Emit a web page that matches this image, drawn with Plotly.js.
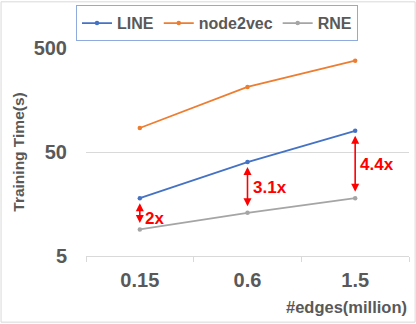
<!DOCTYPE html>
<html>
<head>
<meta charset="utf-8">
<script src="https://cdn.plot.ly/plotly-3.0.1.min.js"></script>
<style>html,body{margin:0;padding:0;background:#fff;}#chart{width:416px;height:324px;}</style>
</head>
<body>
<div id="chart"></div>
<script>
// Data
const categories = ['0.15', '0.6', '1.5'];
const lineValues = [18.0, 40.0, 80.0];
const node2vecValues = [85, 211, 378];
const rneValues = [9.0, 13.0, 18.0];
const ratioLabels = ['2x', '3.1x', '4.4x'];
const yTicks = [5, 50, 500];
const seriesNames = ['LINE', 'node2vec', 'RNE'];

const colors = ['#4472c4', '#ed7d31', '#a5a5a5'];
const txt = '#595959';
const font = 'Liberation Sans, Arial, sans-serif';

const seriesValues = [lineValues, node2vecValues, rneValues];
const data = seriesValues.map((vals, i) => ({
  type: 'scatter',
  mode: 'lines+markers',
  name: '<b>' + seriesNames[i] + '</b>',
  x: categories,
  y: vals,
  line: {color: colors[i], width: 1.8},
  marker: {color: colors[i], size: 4.5}
}));

const annotations = [];
categories.forEach((c, i) => {
  annotations.push({
    xref: 'x', yref: 'y', axref: 'x', ayref: 'y',
    x: i, y: Math.log10(lineValues[i]),
    ax: i, ay: Math.log10(rneValues[i]),
    text: '', showarrow: true,
    arrowside: 'end+start', arrowhead: 2, arrowsize: 1, arrowwidth: 1.6,
    arrowcolor: '#ff0000', standoff: 5, startstandoff: 5
  });
  annotations.push({
    xref: 'x', yref: 'y',
    x: i, y: (Math.log10(lineValues[i]) + Math.log10(rneValues[i])) / 2,
    text: '<b>' + ratioLabels[i] + '</b>', showarrow: false,
    xanchor: 'left', yanchor: 'middle', xshift: 3, yshift: i === 0 ? -5 : 0,
    font: {family: font, size: 17, color: '#ff0000'}
  });
});
annotations.push({
  xref: 'paper', yref: 'paper', x: 1.0, y: -0.244,
  xanchor: 'right', yanchor: 'middle', showarrow: false,
  text: '<b>#edges(million)</b>',
  font: {family: font, size: 16.5, color: txt}
});

const layout = {
  width: 416, height: 324,
  margin: {l: 86, r: 7, t: 47, b: 68},
  paper_bgcolor: '#ffffff', plot_bgcolor: '#ffffff',
  font: {family: font, color: txt},
  showlegend: true,
  legend: {
    orientation: 'h', x: -0.031, y: 1.2, xanchor: 'left', yanchor: 'top',
    bordercolor: '#8faadc', borderwidth: 1, bgcolor: '#ffffff',
    font: {family: font, size: 16, color: txt},
    itemwidth: 30, tracegroupgap: 0
  },
  xaxis: {
    type: 'category', range: [-0.5, 2.5],
    showline: true, linecolor: '#d9d9d9', linewidth: 1,
    showgrid: false, tickson: 'boundaries', ticks: 'outside', ticklen: 5,
    tickcolor: '#d9d9d9', ticklabelstandoff: 6,
    tickfont: {family: font, size: 20, color: txt, weight: 'bold'}
  },
  yaxis: {
    type: 'log', range: [Math.log10(5), Math.log10(500)],
    tickvals: yTicks, ticktext: yTicks.map(String),
    showgrid: true, gridcolor: '#d9d9d9', gridwidth: 1,
    showline: false, ticks: '', ticklabelstandoff: 18,
    tickfont: {family: font, size: 20, color: txt, weight: 'bold'},
    title: {text: 'Training Time(s)', standoff: 5,
            font: {family: font, size: 15.5, color: txt, weight: 'bold'}}
  },
  shapes: [{
    type: 'rect', xref: 'paper', yref: 'paper',
    x0: -0.263, x1: 1.019, y0: -0.318, y1: 1.222,
    line: {color: '#d9d9d9', width: 1}, fillcolor: 'rgba(0,0,0,0)', layer: 'below'
  }],
  annotations: annotations
};

Plotly.newPlot('chart', data, layout, {displayModeBar: false, staticPlot: true});
</script>
</body>
</html>
